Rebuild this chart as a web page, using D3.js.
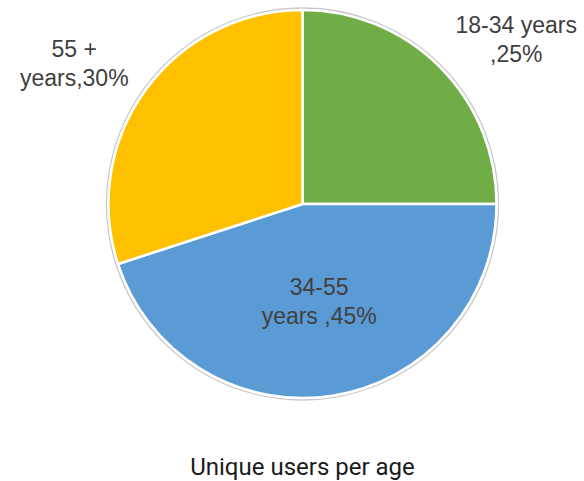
<!DOCTYPE html>
<html>
<head>
<meta charset="utf-8">
<script src="https://cdn.jsdelivr.net/npm/d3@7"></script>
<style>
  body { margin: 0; background: #fff; }
</style>
</head>
<body>
<svg width="584" height="481"></svg>
<script>
const categories = ["18-34 years", "34-55 years", "55 + years"];
const values = [25, 45, 30];
const labelLines = [["18-34 years", ",25%"], ["34-55", "years ,45%"], ["55 +", "years,30%"]];
const colors = ["#70AD47", "#5B9BD5", "#FFC000"];

// label placement: radius for the anchor arc and a nudge
const labelLayout = [
    { r: 250, dx: 37, dy: 6 },
    { r: 100, dx: 1, dy: -8 },
    { r: 250, dx: -26, dy: 0 }
];

const svg = d3.select("svg");
const cx = 302.5, cy = 204, radius = 194;

const g = svg.append("g").attr("transform", `translate(${cx},${cy})`);

const pie = d3.pie().sort(null).value(d => d);
const arcs = pie(values);

const arc = d3.arc().innerRadius(0).outerRadius(radius);

g.append("circle")
    .attr("r", radius + 2)
    .attr("fill", "#fff")
    .attr("stroke", "#c6c6c6")
    .attr("stroke-width", 1.3);

g.selectAll("path.slice")
    .data(arcs)
    .enter().append("path")
    .attr("class", "slice")
    .attr("d", arc)
    .attr("fill", (d, i) => colors[i])
    .attr("stroke", "#fff")
    .attr("stroke-width", 2.5)
    .attr("stroke-linejoin", "round");

arcs.forEach((d, i) => {
    const lay = labelLayout[i];
    const [x, y] = d3.arc().innerRadius(lay.r).outerRadius(lay.r).centroid(d);
    const t = g.append("text")
        .attr("text-anchor", "middle")
        .attr("font-family", "Liberation Sans, Arial, sans-serif")
        .attr("font-size", 23)
        .attr("fill", "#404040");
    labelLines[i].forEach((line, j) => {
        t.append("tspan")
            .attr("x", x + lay.dx)
            .attr("y", y + lay.dy + j * 29)
            .text(line);
    });
});

svg.append("text")
    .attr("x", cx)
    .attr("y", 475)
    .attr("text-anchor", "middle")
    .attr("font-family", "Roboto, sans-serif")
    .attr("font-size", 24)
    .attr("fill", "#1a1a1a")
    .text("Unique users per age");
</script>
</body>
</html>
